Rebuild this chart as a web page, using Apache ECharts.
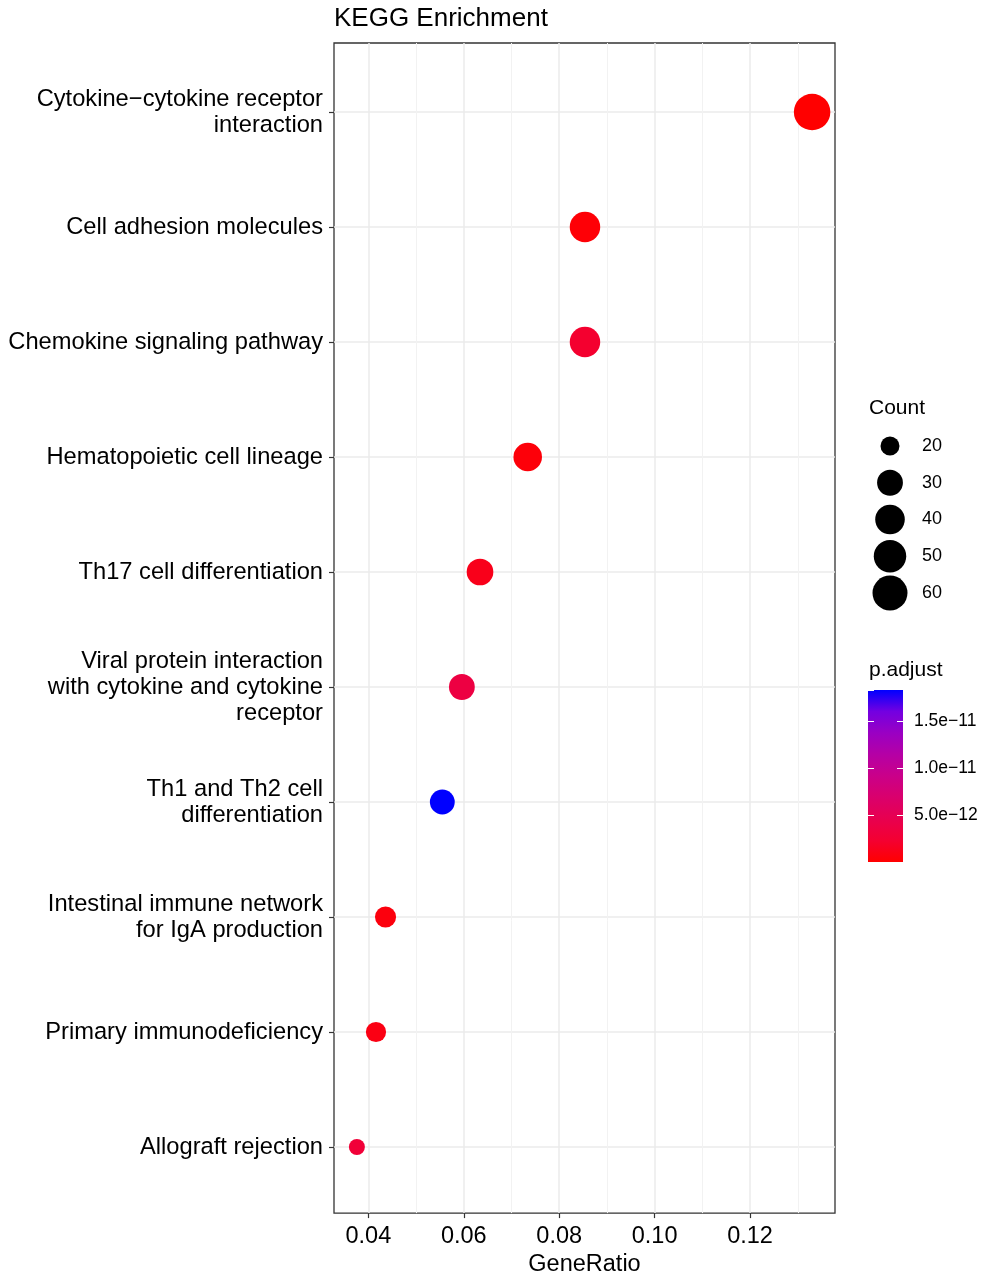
<!DOCTYPE html>
<html>
<head>
<meta charset="utf-8">
<script src="https://cdn.jsdelivr.net/npm/echarts@6/dist/echarts.min.js"></script>
<style>
html, body { margin: 0; padding: 0; background: #fff; }
#main { width: 990px; height: 1282px; }
</style>
</head>
<body>
<div id="main"></div>
<script>
// KEGG pathways, top to bottom
var pathways = [
	'Cytokine\u2212cytokine receptor\ninteraction',
	'Cell adhesion molecules',
	'Chemokine signaling pathway',
	'Hematopoietic cell lineage',
	'Th17 cell differentiation',
	'Viral protein interaction\nwith cytokine and cytokine\nreceptor',
	'Th1 and Th2 cell\ndifferentiation',
	'Intestinal immune network\nfor IgA production',
	'Primary immunodeficiency',
	'Allograft rejection'
];
var geneRatio = [0.1330, 0.0854, 0.0854, 0.0734, 0.0634, 0.0596, 0.0555, 0.0436, 0.0416, 0.0376];
var geneCount = [67, 43, 43, 37, 32, 30, 28, 22, 21, 19];
var pAdjust = [1.0e-15, 3.0e-13, 2.2e-12, 4.0e-13, 1.2e-12, 3.6e-12, 1.83e-11, 6.0e-13, 9.0e-13, 2.8e-12];

// legend / axis breaks
var countBreaks = [20, 30, 40, 50, 60];
var minorBreaks = [0.05, 0.07, 0.09, 0.11, 0.13];

var FONT = 'Liberation Sans, Arial, sans-serif';
// red -> blue, sampled along the Lab path like ggplot's gradient
var rampColors = ['#FF0000', '#F40031', '#E8004F', '#DA006C', '#CA0089', '#B500A5', '#9A00C3', '#7300E1', '#0000FF'];

var cMin = Math.min.apply(null, geneCount);
var cMax = Math.max.apply(null, geneCount);
var pMax = Math.max.apply(null, pAdjust);

function dotSize(c) {
	var t = Math.max(0, (c - cMin) / (cMax - cMin));
	return 16 + 20.5 * Math.sqrt(t);
}

var points = [];
for (var i = 0; i < pathways.length; i++) {
	points.push([geneRatio[i], pathways[i], geneCount[i], pAdjust[i]]);
}

var stops = rampColors.map(function (c, k) {
	return { offset: k / (rampColors.length - 1), color: c };
});

var myChart = echarts.init(document.getElementById('main'));
var option = {
	animation : false,
	backgroundColor : '#fff',
	textStyle : { fontFamily : FONT },
	title : {
		text : 'KEGG Enrichment',
		left : 334,
		top : 6,
		padding : 0,
		textStyle : { fontSize : 26, fontWeight : 'normal', color : '#000', fontFamily : FONT }
	},
	grid : [
		// panel
		{ left : 334, top : 43, width : 501, height : 1172, show : true, borderColor : '#333', borderWidth : 1.3, backgroundColor : '#fff' },
		// category rows
		{ left : 334, top : 112, width : 501, height : 1035 },
		// count legend
		{ left : 870, top : 446, width : 40, height : 147 },
		// colour bar
		{ left : 868, top : 690, width : 35, height : 172 }
	],
	xAxis : [ {
		gridIndex : 0,
		type : 'value',
		min : 0.0328,
		max : 0.1378,
		splitNumber : 5,
		axisLine : { show : false },
		axisTick : { show : true, length : 5, lineStyle : { color : '#333', width : 1.2 } },
		axisLabel : {
			fontSize : 23.5, color : '#000', margin : 11,
			showMinLabel : false, showMaxLabel : false,
			formatter : function (v) { return v.toFixed(2); }
		},
		splitLine : { show : true, showMinLine : false, showMaxLine : false, lineStyle : { color : '#EBEBEB', width : 1.5 } },
		name : 'GeneRatio',
		nameLocation : 'middle',
		nameGap : 36,
		nameTextStyle : { fontSize : 23.5, color : '#000' }
	}, {
		gridIndex : 1,
		type : 'value',
		min : 0.0328,
		max : 0.1378,
		show : false
	}, {
		gridIndex : 2,
		type : 'value',
		min : 0,
		max : 2,
		show : false
	}, {
		gridIndex : 3,
		type : 'category',
		data : [''],
		show : false
	} ],
	yAxis : [ {
		gridIndex : 0,
		type : 'value',
		min : 0,
		max : 1,
		show : false
	}, {
		gridIndex : 1,
		type : 'category',
		data : pathways,
		inverse : true,
		boundaryGap : false,
		axisLine : { show : false },
		axisTick : { show : true, length : 5, lineStyle : { color : '#333', width : 1.2 } },
		axisLabel : { fontSize : 23.7, color : '#000', margin : 11, lineHeight : 26, align : 'right', padding : [6, 0, 0, 0] },
		splitLine : { show : true, lineStyle : { color : '#EBEBEB', width : 1.5 } }
	}, {
		gridIndex : 2,
		type : 'category',
		data : countBreaks.map(String),
		inverse : true,
		boundaryGap : false,
		position : 'right',
		axisLine : { show : false },
		axisTick : { show : false },
		axisLabel : { fontSize : 18, color : '#000', margin : 12 },
		splitLine : { show : false }
	}, {
		gridIndex : 3,
		type : 'value',
		min : 0,
		max : pMax,
		interval : 5e-12,
		position : 'left',
		z : 10,
		axisLine : { show : false },
		axisTick : { show : true, inside : true, length : 6, lineStyle : { color : '#fff', width : 1 } },
		axisLabel : { show : false },
		splitLine : { show : false }
	}, {
		gridIndex : 3,
		type : 'value',
		min : 0,
		max : pMax,
		interval : 5e-12,
		position : 'right',
		z : 10,
		axisLine : { show : false },
		axisTick : { show : true, inside : true, length : 6, lineStyle : { color : '#fff', width : 1 } },
		axisLabel : {
			fontSize : 17.5, color : '#000', margin : 11,
			showMinLabel : false, showMaxLabel : false,
			formatter : function (v) {
				if (v === 0) return '';
				return v.toExponential(1).replace('-', '\u2212');
			}
		},
		splitLine : { show : false }
	} ],
	visualMap : {
		type : 'continuous',
		show : false,
		seriesIndex : 1,
		dimension : 3,
		min : 0,
		max : pMax,
		inRange : { color : rampColors }
	},
	graphic : [
		{ type : 'text', left : 869, top : 398, style : { text : 'Count', fontSize : 21, fontFamily : FONT, fill : '#000' } },
		{ type : 'text', left : 869, top : 660, style : { text : 'p.adjust', fontSize : 21, fontFamily : FONT, fill : '#000' } }
	],
	series : [ {
		// minor grid lines of the panel
		type : 'scatter',
		xAxisIndex : 0,
		yAxisIndex : 0,
		data : [],
		z : 1,
		silent : true,
		markLine : {
			silent : true,
			symbol : 'none',
			label : { show : false },
			lineStyle : { color : '#F2F2F2', width : 1, type : 'solid' },
			data : minorBreaks.map(function (v) { return { xAxis : v }; })
		}
	}, {
		name : 'KEGG',
		type : 'scatter',
		xAxisIndex : 1,
		yAxisIndex : 1,
		clip : false,
		z : 5,
		data : points,
		encode : { x : 0, y : 1 },
		symbolSize : function (d) { return dotSize(d[2]); },
		itemStyle : { opacity : 1 }
	}, {
		name : 'countLegend',
		type : 'scatter',
		xAxisIndex : 2,
		yAxisIndex : 2,
		clip : false,
		data : countBreaks.map(function (v) { return [1, String(v), v]; }),
		symbolSize : function (d) { return dotSize(d[2]); },
		itemStyle : { color : '#000', opacity : 1 }
	}, {
		name : 'colourBar',
		type : 'bar',
		xAxisIndex : 3,
		yAxisIndex : 3,
		barWidth : '100%',
		silent : true,
		data : [pMax],
		itemStyle : {
			color : { type : 'linear', x : 0, y : 1, x2 : 0, y2 : 0, colorStops : stops }
		}
	} ]
};
myChart.setOption(option);
</script>
</body>
</html>
